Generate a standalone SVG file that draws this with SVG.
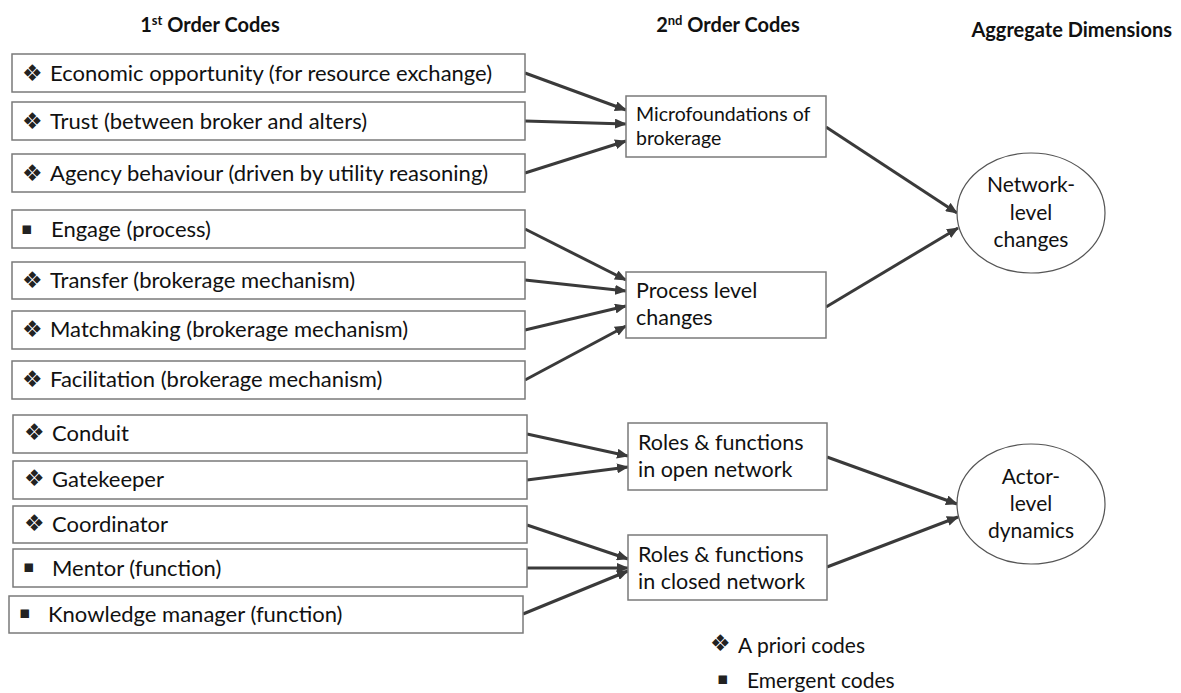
<svg xmlns="http://www.w3.org/2000/svg" width="1181" height="693" viewBox="0 0 1181 693">
  <style>
    .title { font-family: Lato, "Liberation Sans", sans-serif; font-weight: bold; font-size: 20px; fill: #111; }
    .code { font-family: Lato, "Liberation Sans", sans-serif; font-size: 22px; fill: #111; }
    .legend { font-family: Lato, "Liberation Sans", sans-serif; font-size: 21px; fill: #111; }
    .theme { font-family: Lato, "Liberation Sans", sans-serif; font-size: 21.5px; fill: #111; }
    .theme.small { font-size: 19.5px; }
    .dim { font-family: Lato, "Liberation Sans", sans-serif; font-size: 21px; fill: #111; text-anchor: middle; }
    .diamond { font-family: "DejaVu Sans", sans-serif; font-size: 23px; fill: #222; }
    .square { font-family: "DejaVu Sans", sans-serif; font-size: 17px; fill: #222; }
    .box { fill: #fff; stroke: #7a7a7a; stroke-width: 1.5; }
    .oval { fill: #fff; stroke: #555; stroke-width: 1.2; }
    .link { stroke: #3a3a3a; stroke-width: 3; fill: none; marker-end: url(#head); }
  </style>
  <defs>
    <marker id="head" viewBox="0 0 12 10" refX="11" refY="5" markerWidth="12" markerHeight="10" markerUnits="userSpaceOnUse" orient="auto">
      <path d="M0,0 L12,5 L0,10 z" fill="#3a3a3a"/>
    </marker>
  </defs>

  <rect width="1181" height="693" fill="#fff"/>

  <!-- column headings -->
  <g id="headings">
    <text class="title" x="210" y="32" text-anchor="middle">1<tspan font-size="13" dy="-7">st</tspan><tspan dy="7"> Order Codes</tspan></text>
    <text class="title" x="728" y="32" text-anchor="middle">2<tspan font-size="13" dy="-7">nd</tspan><tspan dy="7"> Order Codes</tspan></text>
    <text class="title" x="1172" y="37" text-anchor="end">Aggregate Dimensions</text>
  </g>

  <!-- connectors -->
  <g id="connectors">
    <line class="link" x1="525" y1="73" x2="626" y2="110"/>
    <line class="link" x1="525" y1="121" x2="626" y2="124"/>
    <line class="link" x1="525" y1="173" x2="626" y2="141"/>

    <line class="link" x1="525" y1="229" x2="626" y2="280"/>
    <line class="link" x1="525" y1="280" x2="626" y2="291"/>
    <line class="link" x1="525" y1="330" x2="626" y2="306"/>
    <line class="link" x1="525" y1="380" x2="626" y2="326"/>

    <line class="link" x1="527" y1="434" x2="628" y2="456"/>
    <line class="link" x1="527" y1="480" x2="628" y2="467"/>

    <line class="link" x1="527" y1="525" x2="628" y2="559"/>
    <line class="link" x1="527" y1="568" x2="628" y2="568"/>
    <line class="link" x1="523" y1="614" x2="628" y2="571"/>

    <line class="link" x1="826" y1="127" x2="957" y2="213"/>
    <line class="link" x1="826" y1="307" x2="958" y2="228"/>
    <line class="link" x1="827" y1="457" x2="957" y2="504"/>
    <line class="link" x1="827" y1="567" x2="958" y2="517"/>
  </g>

  <!-- first-order codes -->
  <g id="c1"><rect class="box" x="12" y="54" width="513" height="38"/><text class="diamond" x="22" y="81">❖</text><text class="code" x="50" y="81">Economic opportunity (for resource exchange)</text></g>
  <g id="c2"><rect class="box" x="12" y="102" width="513" height="38"/><text class="diamond" x="22" y="129">❖</text><text class="code" x="50" y="129">Trust (between broker and alters)</text></g>
  <g id="c3"><rect class="box" x="12" y="154" width="513" height="38"/><text class="diamond" x="22" y="181">❖</text><text class="code" x="50" y="181">Agency behaviour (driven by utility reasoning)</text></g>
  <g id="c4"><rect class="box" x="12" y="210" width="513" height="38"/><text class="square" x="21" y="234">▪</text><text class="code" x="51" y="237">Engage (process)</text></g>
  <g id="c5"><rect class="box" x="12" y="262" width="513" height="37"/><text class="diamond" x="22" y="288">❖</text><text class="code" x="50" y="288">Transfer (brokerage mechanism)</text></g>
  <g id="c6"><rect class="box" x="12" y="311" width="513" height="38"/><text class="diamond" x="22" y="337">❖</text><text class="code" x="50" y="337">Matchmaking (brokerage mechanism)</text></g>
  <g id="c7"><rect class="box" x="12" y="361" width="513" height="38"/><text class="diamond" x="22" y="387">❖</text><text class="code" x="50" y="387">Facilitation (brokerage mechanism)</text></g>
  <g id="c8"><rect class="box" x="13" y="415" width="514" height="38"/><text class="diamond" x="24" y="440">❖</text><text class="code" x="52" y="441">Conduit</text></g>
  <g id="c9"><rect class="box" x="13" y="461" width="514" height="38"/><text class="diamond" x="24" y="486">❖</text><text class="code" x="52" y="487">Gatekeeper</text></g>
  <g id="c10"><rect class="box" x="13" y="506" width="514" height="37"/><text class="diamond" x="24" y="531">❖</text><text class="code" x="52" y="532">Coordinator</text></g>
  <g id="c11"><rect class="box" x="13" y="549" width="514" height="38"/><text class="square" x="23" y="572">▪</text><text class="code" x="52" y="576">Mentor (function)</text></g>
  <g id="c12"><rect class="box" x="9" y="596" width="514" height="37"/><text class="square" x="19" y="618">▪</text><text class="code" x="48" y="622">Knowledge manager (function)</text></g>

  <!-- second-order codes -->
  <g id="t1"><rect class="box" x="626" y="96" width="200" height="61"/><text class="theme small" x="636" y="121">Microfoundations of</text><text class="theme small" x="636" y="145">brokerage</text></g>
  <g id="t2"><rect class="box" x="626" y="272" width="200" height="66"/><text class="theme" x="636" y="298">Process level</text><text class="theme" x="636" y="325">changes</text></g>
  <g id="t3"><rect class="box" x="628" y="423" width="199" height="67"/><text class="theme" x="638" y="450">Roles &amp; functions</text><text class="theme" x="638" y="477">in open network</text></g>
  <g id="t4"><rect class="box" x="628" y="535" width="199" height="65"/><text class="theme" x="638" y="562">Roles &amp; functions</text><text class="theme" x="638" y="589">in closed network</text></g>

  <!-- aggregate dimensions -->
  <g id="d1"><ellipse class="oval" cx="1031" cy="213" rx="74" ry="60"/><text class="dim" x="1031" y="192">Network-</text><text class="dim" x="1031" y="220">level</text><text class="dim" x="1031" y="247">changes</text></g>
  <g id="d2"><ellipse class="oval" cx="1031" cy="504" rx="74" ry="60"/><text class="dim" x="1031" y="484">Actor-</text><text class="dim" x="1031" y="511">level</text><text class="dim" x="1031" y="538">dynamics</text></g>

  <!-- legend -->
  <g id="legend">
    <text class="diamond" x="710" y="651">❖</text><text class="legend" x="738" y="653">A priori codes</text>
    <text class="square" x="717" y="684">▪</text><text class="legend" x="747" y="688">Emergent codes</text>
  </g>
</svg>
